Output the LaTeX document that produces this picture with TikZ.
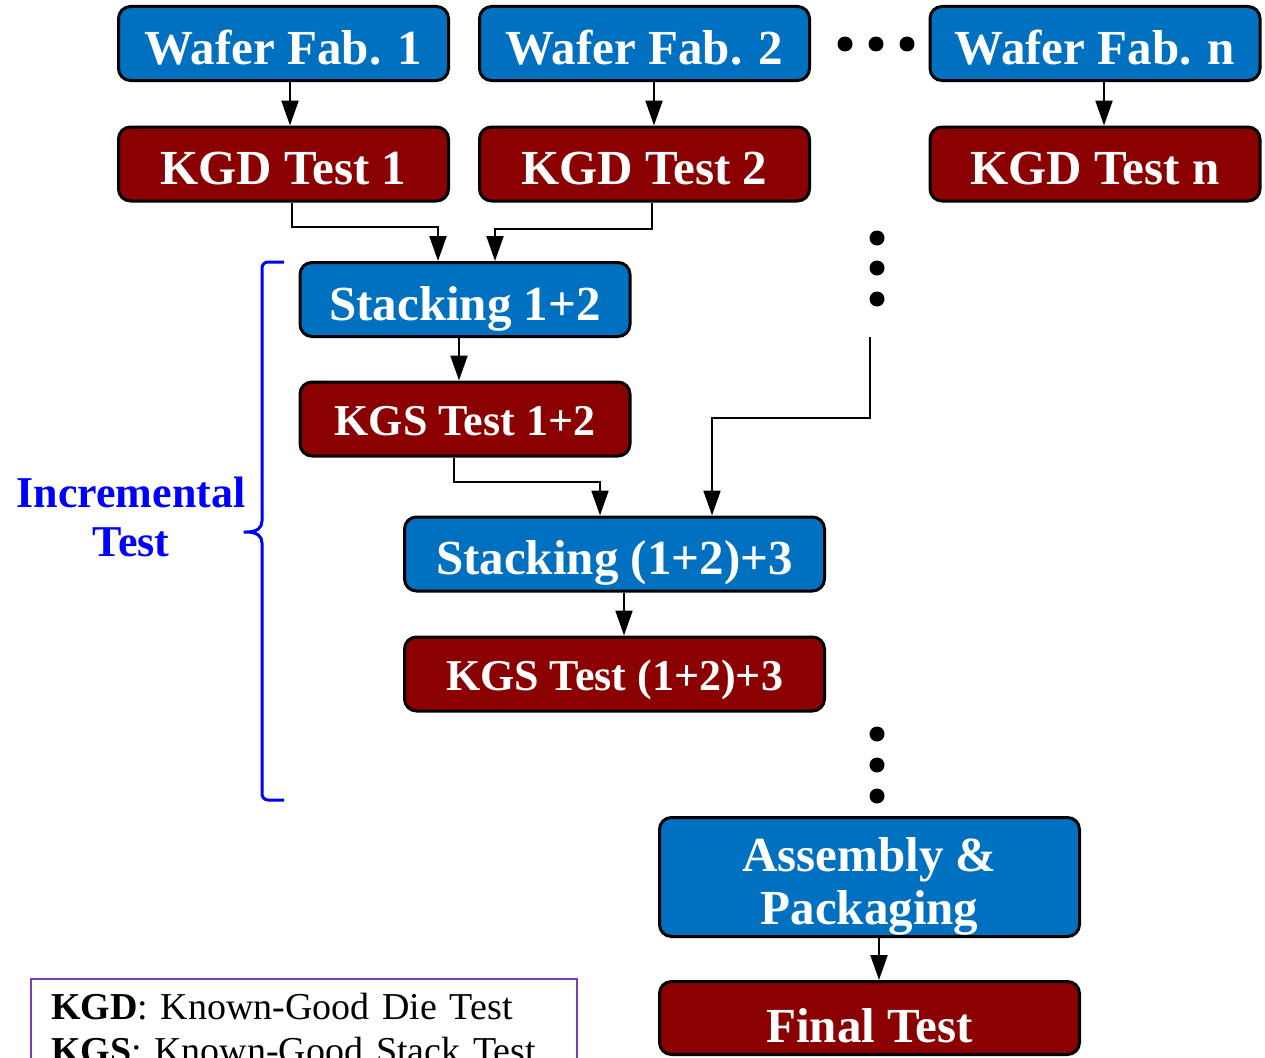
\documentclass[tikz,border=0pt]{standalone}
\usepackage{fontspec}
\setmainfont{Liberation Serif}
\usetikzlibrary{arrows.meta}
\definecolor{boxblue}{RGB}{0,112,192}
\definecolor{boxred}{RGB}{139,0,0}
\definecolor{legendpurple}{RGB}{125,60,175}
\definecolor{braceblue}{RGB}{0,0,255}
\begin{document}
\begin{tikzpicture}[x=1pt,y=-1pt,
  basebox/.style={draw=black, line width=3pt, rounded corners=12pt, inner sep=0pt,
    text=white, font=\fontsize{49}{53}\selectfont\bfseries,
    minimum width=330pt, minimum height=74pt, text height=41pt, text depth=0pt},
  bluebox/.style={basebox, fill=boxblue},
  redbox/.style={basebox, fill=boxred},
  kgsbox/.style={redbox, font=\fontsize{44}{48}\selectfont\bfseries, text height=32pt},
  widebox/.style={minimum width=420pt},
  arr/.style={draw=black, line width=2.2pt, -{Triangle[length=25pt,width=17pt]}},
  dotnode/.style={circle, fill=black, inner sep=0pt, minimum size=15pt},
  bracestyle/.style={draw=braceblue, line width=3pt},
  sidelabel/.style={text=braceblue, font=\fontsize{44}{49}\selectfont\bfseries, align=center, inner sep=0pt},
  legendbox/.style={draw=legendpurple, line width=2pt, fill=white, inner xsep=20pt, inner ysep=14pt,
    text width=506pt, align=left, font=\fontsize{38}{44}\selectfont}
]
\useasboundingbox (0,0) rectangle (1265,1057);
\clip (0,0) rectangle (1265,1057);

% top row
\node[bluebox] (wf1) at (283.5,43.5) {Wafer Fab. 1};
\node[bluebox] (wf2) at (644.5,43.5) {Wafer Fab. 2};
\node[bluebox] (wfn) at (1095,43.5) {Wafer Fab. n};
\node[redbox] (kgd1) at (283.5,164) {KGD Test 1};
\node[redbox] (kgd2) at (644.5,164) {KGD Test 2};
\node[redbox] (kgdn) at (1095,164) {KGD Test n};

% dots
\node[dotnode] (hd1) at (845,44) {};
\node[dotnode] (hd2) at (876,44) {};
\node[dotnode] (hd3) at (907,44) {};
\node[dotnode] (vd1) at (877,238) {};
\node[dotnode] (vd2) at (877,268) {};
\node[dotnode] (vd3) at (877,299) {};
\node[dotnode] (bd1) at (877,734) {};
\node[dotnode] (bd2) at (877,765) {};
\node[dotnode] (bd3) at (877,796) {};

% stacking
\node[bluebox] (st12) at (465,299.5) {Stacking 1+2};
\node[kgsbox] (kgs12) at (465,419) {KGS Test 1+2};
\node[bluebox, widebox] (st123) at (614.5,554) {Stacking (1+2)+3};
\node[kgsbox, widebox] (kgs123) at (614.5,674) {KGS Test (1+2)+3};
\node[bluebox, widebox, minimum height=119pt, text height=0pt] (asm) at (869.5,877) {};
\node[text=white, inner sep=0pt, align=center,
  font=\fontsize{49}{53}\selectfont\bfseries] (asmtext) at (869.5,886) {Assembly \&\\Packaging};
\node[redbox, widebox, minimum height=73pt, text height=48pt] (final) at (869.5,1018) {Final Test};

\coordinate (vfree) at (870,337);

% connectors
\draw[arr] ([xshift=6.5]wf1.south) -- ([xshift=6.5]kgd1.north);
\draw[arr] ([xshift=9.5]wf2.south) -- ([xshift=9.5]kgd2.north);
\draw[arr] ([xshift=9]wfn.south) -- ([xshift=9]kgdn.north);
\draw[arr] ([xshift=8.5]kgd1.south) -- ++(0,24.5) -| ([xshift=-27]st12.north);
\draw[arr] ([xshift=7.5]kgd2.south) -- ++(0,26.5) -| ([xshift=30]st12.north);
\draw[arr] ([xshift=-6]st12.south) -- ([xshift=-6]kgs12.north);
\draw[arr] ([xshift=-11]kgs12.south) -- ++(0,24.5) -| ([xshift=-14.5]st123.north);
\draw[arr] (vfree) -- (870,418) -| ([xshift=97.5]st123.north);
\draw[arr] ([xshift=9.5]st123.south) -- ([xshift=9.5]kgs123.north);
\draw[arr] ([xshift=9.5]asm.south) -- ([xshift=9.5]final.north);

% brace
\draw[bracestyle, rounded corners=6pt] (284,262) -- (262,262) -- (262,515)
  .. controls (262,528) and (257,532) .. (240,532)
  .. controls (257,532) and (262,536) .. (262,549)
  -- (262,800) -- (284,800);
\node[sidelabel] (inc) at (131,517) {Incremental\\Test};

% legend
\node[legendbox, anchor=north west] (legend) at (30,978)
  {\textbf{KGD}: Known-Good Die Test\\\textbf{KGS}: Known-Good Stack Test};
\end{tikzpicture}
\end{document}
